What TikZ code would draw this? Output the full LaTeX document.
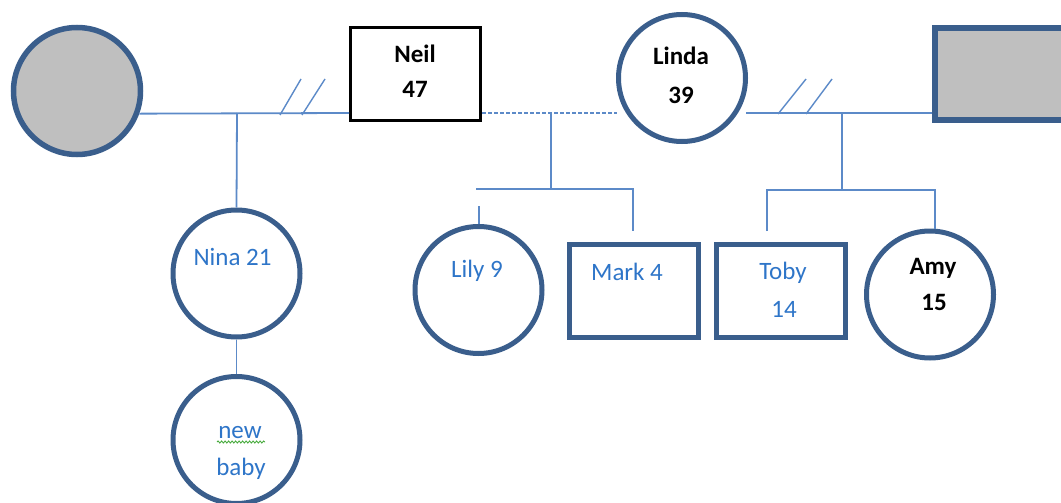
\documentclass[tikz,border=0pt]{standalone}
\usepackage{fontspec}
\setmainfont{Carlito}
\usetikzlibrary{decorations.pathmorphing}
\definecolor{shapeblue}{RGB}{58,94,140}
\definecolor{linkblue}{RGB}{92,138,200}
\definecolor{textblue}{RGB}{46,117,200}
\definecolor{fillgray}{RGB}{191,191,191}
\definecolor{spellgreen}{RGB}{70,170,60}
\tikzset{
 person/.style={circle, draw=shapeblue, line width=5pt, minimum size=127pt, inner sep=0pt},
 malebox/.style={rectangle, draw=shapeblue, line width=5.5pt, minimum width=129pt, minimum height=93pt, inner sep=0pt},
 link/.style={draw=linkblue, line width=1.8pt},
 divorce/.style={draw=linkblue, line width=1.4pt},
 bname/.style={anchor=base, font=\fontsize{25}{28}\selectfont\bfseries, text=black, inner sep=0pt},
 blname/.style={anchor=base, font=\fontsize{25}{28}\selectfont, text=textblue, inner sep=0pt},
}
\begin{document}
\begin{tikzpicture}[x=1pt,y=-1pt]
\clip (0,0) rectangle (1061,503);
\useasboundingbox (0,0) rectangle (1061,503);
% people
\node[person, fill=fillgray, line width=5.5pt] (lc) at (77,91) {};
\node[rectangle, draw=black, line width=3pt, minimum width=130pt, minimum height=93pt, inner sep=0pt] (neil) at (415.5,74) {};
\node[person] (linda) at (682,78) {};
\node[malebox, fill=fillgray, line width=6.5pt, minimum width=146pt, minimum height=92pt] (ex) at (1008,74) {};
\node[person] (nina) at (236.5,273.5) {};
\node[person] (baby) at (236.5,440) {};
\node[person] (lily) at (478.5,290) {};
\node[malebox] (mark) at (634,291) {};
\node[malebox] (toby) at (781,291) {};
\node[person] (amy) at (930,294.5) {};
% texts
\node[bname] (neilA) at (415,63) {Neil};
\node[bname] (neilB) at (415,97) {47};
\node[bname] (lindaA) at (681,65) {Linda};
\node[bname] (lindaB) at (681,103) {39};
\node[blname] (ninaA) at (232.5,265) {Nina 21};
\node[blname] (babyA) at (240,438) {new};
\node[blname] (babyB) at (241,475) {baby};
\node[blname] (lilyA) at (477,277) {Lily 9};
\node[blname] (markA) at (627,280) {Mark 4};
\node[blname] (tobyA) at (783,279) {Toby};
\node[blname] (tobyB) at (784,317) {14};
\node[bname] (amyA) at (933,274) {Amy};
\node[bname] (amyB) at (934,310) {15};
\draw[spellgreen, line width=0.9pt, decorate, decoration={snake, amplitude=1pt, segment length=3.5pt}] (217,442) -- (265,442);
% coordinates
\coordinate (j1) at (237,113);
\coordinate (dend) at (617,113);
\coordinate (j2) at (551,113);
\coordinate (j2b) at (551,189);
\coordinate (b1) at (476,189);
\coordinate (b2) at (633,189);
\coordinate (b2e) at (633,231);
\coordinate (ls1) at (479,206);
\coordinate (ls2) at (479,224);
\coordinate (r1) at (746,113);
\coordinate (j3) at (842,113);
\coordinate (j3b) at (842,190);
\coordinate (c1) at (767,190);
\coordinate (c1e) at (767,231);
\coordinate (c2) at (935,190);
\coordinate (c2e) at (935,229);
% connectors
\draw[link] (lc.-20) -- (neil.west |- j1);
\draw[link] (j1) -- (nina.north);
\draw[link] (nina.south) -- (baby.north);
\draw[link, dash pattern=on 4pt off 2pt] (neil.east |- j1) -- (dend);
\draw[link] (j2) -- (j2b);
\draw[link] (b1) -- (b2) -- (b2e);
\draw[link] (ls1) -- (ls2);
\draw[link] (r1) -- (ex.west |- r1);
\draw[link] (j3) -- (j3b);
\draw[link] (c1e) -- (c1) -- (c2) -- (c2e);
% divorce marks
\draw[divorce] (280,115) -- (301,79);
\draw[divorce] (302,115) -- (325,79);
\draw[divorce] (778,114) -- (806,79);
\draw[divorce] (806,114) -- (832,79);
\end{tikzpicture}
\end{document}
